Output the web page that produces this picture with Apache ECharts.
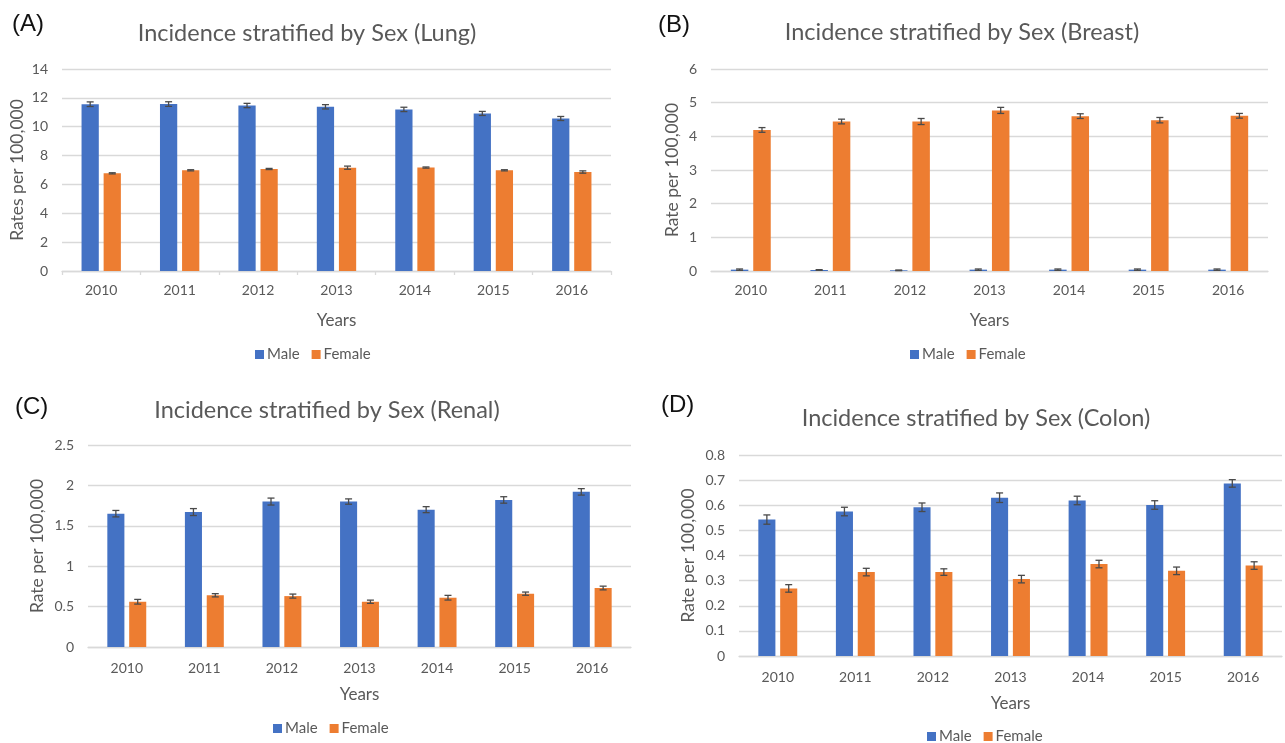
<!DOCTYPE html>
<html>
<head>
<meta charset="utf-8">
<script src="https://cdn.jsdelivr.net/npm/echarts@6/dist/echarts.min.js"></script>
<style>
  html, body { margin: 0; padding: 0; background: #ffffff; }
  #chart { width: 1285px; height: 743px; }
</style>
</head>
<body>
<div id="chart"></div>
<script>
// Incidence rates per 100,000 by sex, 2010-2016, with error bars
const years = ['2010', '2011', '2012', '2013', '2014', '2015', '2016'];
const seriesNames = ['Male', 'Female'];

const lungMale = [11.56, 11.57, 11.47, 11.38, 11.20, 10.92, 10.57];
const lungFemale = [6.77, 6.98, 7.07, 7.16, 7.17, 6.98, 6.86];
const lungMaleErr = [0.16, 0.16, 0.15, 0.15, 0.15, 0.14, 0.14];
const lungFemaleErr = [0.04, 0.04, 0.04, 0.11, 0.04, 0.04, 0.08];

const breastMale = [0.04, 0.03, 0.02, 0.04, 0.04, 0.04, 0.04];
const breastFemale = [4.19, 4.44, 4.44, 4.77, 4.60, 4.48, 4.61];
const breastMaleErr = [0.02, 0.01, 0.01, 0.02, 0.02, 0.02, 0.02];
const breastFemaleErr = [0.07, 0.07, 0.09, 0.09, 0.07, 0.08, 0.07];

const renalMale = [1.65, 1.67, 1.80, 1.80, 1.70, 1.82, 1.92];
const renalFemale = [0.56, 0.64, 0.63, 0.56, 0.61, 0.66, 0.73];
const renalMaleErr = [0.04, 0.043, 0.043, 0.033, 0.037, 0.04, 0.04];
const renalFemaleErr = [0.029, 0.02, 0.025, 0.02, 0.029, 0.02, 0.023];

const colonMale = [0.543, 0.575, 0.592, 0.630, 0.619, 0.601, 0.687];
const colonFemale = [0.269, 0.334, 0.334, 0.306, 0.366, 0.339, 0.360];
const colonMaleErr = [0.0185, 0.017, 0.017, 0.019, 0.017, 0.017, 0.015];
const colonFemaleErr = [0.015, 0.015, 0.013, 0.015, 0.015, 0.015, 0.015];

const yTicksLung = { max: 14, interval: 2 };
const yTicksBreast = { max: 6, interval: 1 };
const yTicksRenal = { max: 2.5, interval: 0.5 };
const yTicksColon = { max: 0.8, interval: 0.1 };

const panels = [
  { letter: '(A)', title: 'Incidence stratified by Sex (Lung)', yName: 'Rates per 100,000',
    male: lungMale, female: lungFemale, maleErr: lungMaleErr, femaleErr: lungFemaleErr, ticks: yTicksLung },
  { letter: '(B)', title: 'Incidence stratified by Sex (Breast)', yName: 'Rate per 100,000',
    male: breastMale, female: breastFemale, maleErr: breastMaleErr, femaleErr: breastFemaleErr, ticks: yTicksBreast },
  { letter: '(C)', title: 'Incidence stratified by Sex (Renal)', yName: 'Rate per 100,000',
    male: renalMale, female: renalFemale, maleErr: renalMaleErr, femaleErr: renalFemaleErr, ticks: yTicksRenal },
  { letter: '(D)', title: 'Incidence stratified by Sex (Colon)', yName: 'Rate per 100,000',
    male: colonMale, female: colonFemale, maleErr: colonMaleErr, femaleErr: colonFemaleErr, ticks: yTicksColon }
];

// Page layout of the four panels
const layout = [
  { grid: { left: 62, top: 69, width: 549, height: 202 }, xTicks: true,
    letterPos: [12, 24], titlePos: [307, 33], legendPos: [250, 342], xNameGap: 41, yNameGap: 36, xLabelMargin: 12 },
  { grid: { left: 711, top: 69, width: 557, height: 202 }, xTicks: false,
    letterPos: [658, 25], titlePos: [962, 32], legendPos: [905, 342], xNameGap: 41, yNameGap: 30, xLabelMargin: 12 },
  { grid: { left: 88, top: 445, width: 543, height: 202 }, xTicks: false,
    letterPos: [15, 407], titlePos: [327, 410], legendPos: [268, 716], xNameGap: 39, yNameGap: 42, xLabelMargin: 14 },
  { grid: { left: 739, top: 455, width: 543, height: 201 }, xTicks: false,
    letterPos: [661, 405], titlePos: [976, 418], legendPos: [922, 724], xNameGap: 39, yNameGap: 42, xLabelMargin: 14 }
];

const COLORS = ['#4472C4', '#ED7D31'];
const TEXT = '#595959';
const GRID_LINE = '#D9D9D9';
const FONT = 'Lato, "Open Sans", sans-serif';
const BAR_W = 0.22;   // bar width as a share of the category band
const BAR_GAP = 0.28; // gap between the two bars as a share of bar width

function errorBarRenderer(params, api) {
  const cat = api.value(0);
  const v = api.value(1);
  const e = api.value(2);
  const s = api.value(3);
  const band = api.size([1, 0])[0];
  const bw = band * BAR_W;
  const off = (bw * (1 + BAR_GAP)) / 2 * (s === 0 ? -1 : 1);
  const top = api.coord([cat, v + e]);
  const bot = api.coord([cat, Math.max(0, v - e)]);
  const x = top[0] + off;
  const h = 3.5;
  const style = { stroke: '#4a4a4a', lineWidth: 1.3 };
  return {
    type: 'group',
    children: [
      { type: 'line', shape: { x1: x, y1: top[1], x2: x, y2: bot[1] }, style },
      { type: 'line', shape: { x1: x - h, y1: top[1], x2: x + h, y2: top[1] }, style },
      { type: 'line', shape: { x1: x - h, y1: bot[1], x2: x + h, y2: bot[1] }, style }
    ]
  };
}

const grids = [], xAxes = [], yAxes = [], series = [], legends = [], graphics = [];

panels.forEach((p, i) => {
  const L = layout[i];
  grids.push(Object.assign({ containLabel: false }, L.grid));

  xAxes.push({
    type: 'category', gridIndex: i, data: years,
    name: 'Years', nameLocation: 'middle', nameGap: L.xNameGap,
    nameTextStyle: { color: TEXT, fontSize: 17, fontFamily: FONT },
    axisLine: { show: true, lineStyle: { color: GRID_LINE, width: 1.3 } },
    axisTick: { show: L.xTicks, length: 4, lineStyle: { color: GRID_LINE, width: 1.3 } },
    axisLabel: { color: TEXT, fontSize: 14, fontFamily: FONT, margin: L.xLabelMargin },
    splitLine: { show: false }
  });

  yAxes.push({
    type: 'value', gridIndex: i, min: 0, max: p.ticks.max, interval: p.ticks.interval,
    name: p.yName, nameLocation: 'middle', nameRotate: 90, nameGap: L.yNameGap,
    nameTextStyle: { color: TEXT, fontSize: 17.5, fontFamily: FONT },
    axisLine: { show: false }, axisTick: { show: false },
    axisLabel: { color: TEXT, fontSize: 14, fontFamily: FONT, margin: 14 },
    splitLine: { lineStyle: { color: GRID_LINE, width: 1.3 } }
  });

  const vals = [p.male, p.female];
  const errs = [p.maleErr, p.femaleErr];
  vals.forEach((arr, s) => {
    series.push({
      name: seriesNames[s], type: 'bar', xAxisIndex: i, yAxisIndex: i,
      data: arr, barWidth: (BAR_W * 100) + '%', barGap: (BAR_GAP * 100) + '%',
      itemStyle: { color: COLORS[s] }, animation: false
    });
  });

  const errData = [];
  vals.forEach((arr, s) => {
    arr.forEach((v, k) => errData.push([k, v, errs[s][k], s]));
  });
  series.push({
    name: 'error', type: 'custom', xAxisIndex: i, yAxisIndex: i,
    renderItem: errorBarRenderer, data: errData, encode: { x: 0, y: 1 },
    z: 5, silent: true, animation: false
  });

  legends.push({
    data: seriesNames, left: L.legendPos[0], top: L.legendPos[1], orient: 'horizontal',
    icon: 'rect', itemWidth: 9, itemHeight: 9, itemGap: 12,
    textStyle: { color: TEXT, fontSize: 15, fontFamily: FONT, padding: [0, 0, 0, -2] }
  });

  graphics.push({
    type: 'text', x: L.titlePos[0], y: L.titlePos[1],
    style: { text: p.title, fill: TEXT, font: '23.5px ' + FONT, align: 'center', verticalAlign: 'middle' }
  });
  graphics.push({
    type: 'text', x: L.letterPos[0], y: L.letterPos[1],
    style: { text: p.letter, fill: '#111111', font: '24px "Liberation Sans", Arial, sans-serif', align: 'left', verticalAlign: 'middle' }
  });
});

const chart = echarts.init(document.getElementById('chart'), null, { renderer: 'canvas' });
chart.setOption({
  backgroundColor: '#ffffff',
  animation: false,
  grid: grids, xAxis: xAxes, yAxis: yAxes, series: series,
  legend: legends, graphic: graphics
});
</script>
</body>
</html>
